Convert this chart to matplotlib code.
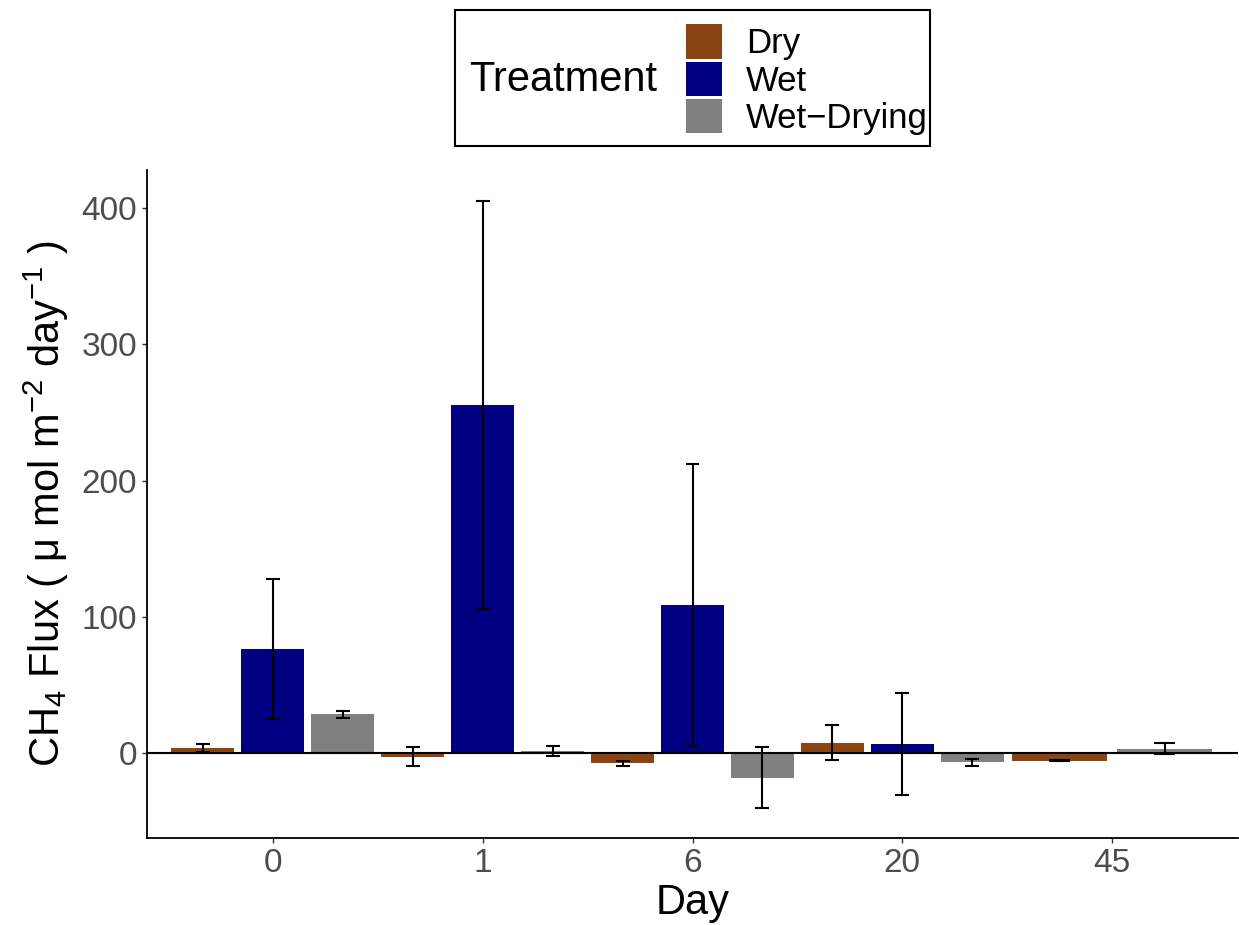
import numpy as np
import matplotlib
matplotlib.use('Agg')
import matplotlib.pyplot as plt
from matplotlib.patches import Patch, Rectangle

plt.rcParams['font.family'] = ['Liberation Sans', 'DejaVu Sans']
plt.rcParams['mathtext.fontset'] = 'custom'
plt.rcParams['mathtext.rm'] = 'Liberation Sans'
plt.rcParams['mathtext.it'] = 'Liberation Sans:italic'

days = ['0', '1', '6', '20', '45']
treatments = ['Dry', 'Wet', 'Wet\u2212Drying']
colors = ['#8B4513', '#000080', '#808080']

dry_mean = [3.8, -2.6, -7.7, 7.5, -5.6]
dry_se = [2.9, 7.2, 1.8, 13.0, 0.3]
wet_mean = [76.3, 255.4, 108.8, 6.6, np.nan]
wet_se = [51.7, 150.0, 103.3, 37.2, np.nan]
wd_mean = [28.4, 1.5, -18.1, -6.8, 3.0]
wd_se = [2.5, 3.5, 22.5, 2.6, 4.0]

means = [dry_mean, wet_mean, wd_mean]
ses = [dry_se, wet_se, wd_se]

fig = plt.figure(figsize=(12.39, 9.25), dpi=100)
ax = fig.add_axes([147/1239, 1-838/925, (1238-147)/1239, (838-170)/925])

# dodge like ggplot: groups that exist share the slot
for i, d in enumerate(days):
    present = [g for g in range(3) if not np.isnan(means[g][i])]
    n = len(present)
    for k, g in enumerate(present):
        x = (i + 1) - 0.5 + (k + 0.5) / n
        ax.bar(x, means[g][i], width=0.9 / n, color=colors[g], zorder=1)

ax.axhline(0, color='black', lw=1.5, zorder=2)

for i, d in enumerate(days):
    present = [g for g in range(3) if not np.isnan(means[g][i])]
    n = len(present)
    for k, g in enumerate(present):
        x = (i + 1) - 0.5 + (k + 0.5) / n
        m = means[g][i]
        s = ses[g][i]
        cw = 0.2 / n
        ax.vlines(x, m - s, m + s, color='black', lw=1.5, zorder=3)
        ax.hlines([m - s, m + s], x - cw / 2, x + cw / 2, color='black', lw=1.5, zorder=3)

ax.set_xlim(0.4, 5.6)
ax.set_ylim(-62.4, 428)
ax.set_xticks(range(1, 6))
ax.set_xticklabels(days)
ax.set_yticks([0, 100, 200, 300, 400])
ax.tick_params(labelsize=24, colors='#333333', length=3.5, width=1.0, labelcolor='#4D4D4D')
for sp in ['top', 'right']:
    ax.spines[sp].set_visible(False)
for sp in ['left', 'bottom']:
    ax.spines[sp].set_linewidth(1.3)

ax.set_xlabel('Day', fontsize=30, labelpad=3)
ax.set_ylabel('CH$_4$ Flux ( \u03bc mol m$^{-2}$ day$^{-1}$ )', fontsize=30, labelpad=8)

# legend, title on the left as in ggplot
fig.patches.append(Rectangle((455/1239, 1-146/925), (930-455)/1239, (146-10)/925,
                             transform=fig.transFigure, fill=False, edgecolor='black', lw=1.5))
fig.text(469/1239, 1-80/925, 'Treatment', fontsize=30, va='center', ha='left')
handles = [Patch(facecolor=c, edgecolor='none') for c in colors]
fig.legend(handles, treatments, loc='upper left', bbox_to_anchor=(686/1239, 1-24.5/925),
           frameon=False, fontsize=25, handlelength=1.04, handleheight=1.15,
           labelspacing=0.03, handletextpad=0.69, borderpad=0, borderaxespad=0)

fig.savefig('out.png', dpi=100)
